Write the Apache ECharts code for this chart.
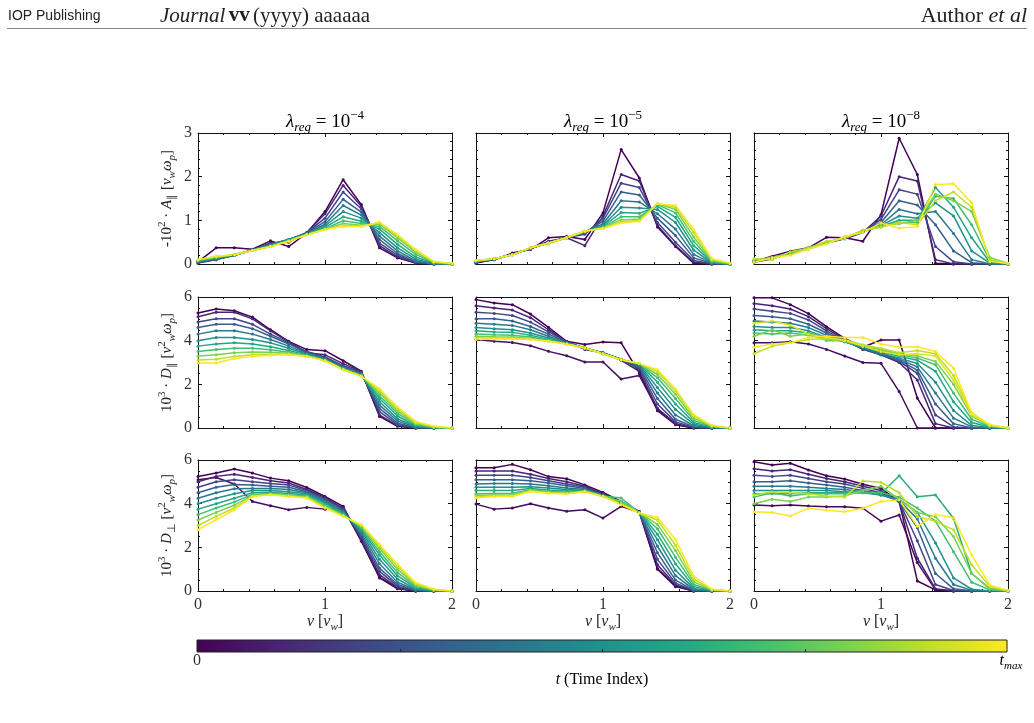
<!DOCTYPE html>
<html><head><meta charset="utf-8">
<script src="https://cdn.jsdelivr.net/npm/echarts@6/dist/echarts.min.js"></script>
<style>html,body{margin:0;padding:0;background:#fff}#c{width:1034px;height:723px}</style>
</head><body><div id="c"></div>
<script>
// ---------- data ----------
const vGrid = [0,0.143,0.286,0.429,0.571,0.714,0.857,1,1.143,1.286,1.429,1.571,1.714,1.857,2];
const lambdaExp = ['−4','−5','−8'];
const yTicksTop = [0,1,2,3];
const yTicksLow = [0,2,4,6];

// Row 1: -10^2 A_par ; lambda = 1e-4
const tA4 = [0,0.1,0.2,0.3,0.4,0.5,0.6,0.7,0.8,0.9,1];
const A4 = [
 [0.05,0.37,0.37,0.34,0.53,0.40,0.71,1.20,1.93,1.36,0.37,0.14,0.02,0,0],
 [0.02,0.10,0.20,0.32,0.48,0.50,0.72,1.15,1.80,1.32,0.42,0.16,0.02,0,0],
 [0.03,0.10,0.20,0.32,0.46,0.55,0.72,1.05,1.65,1.26,0.48,0.20,0.03,0,0],
 [0.04,0.11,0.20,0.32,0.45,0.56,0.71,0.97,1.48,1.19,0.56,0.24,0.05,0,0],
 [0.05,0.12,0.20,0.32,0.44,0.56,0.70,0.91,1.34,1.12,0.64,0.30,0.07,0,0],
 [0.06,0.13,0.21,0.32,0.43,0.56,0.69,0.87,1.20,1.05,0.72,0.37,0.11,0.01,0],
 [0.07,0.14,0.21,0.32,0.42,0.55,0.68,0.84,1.08,0.98,0.80,0.45,0.16,0.02,0],
 [0.08,0.15,0.21,0.31,0.41,0.54,0.68,0.81,0.99,0.93,0.86,0.53,0.22,0.03,0],
 [0.09,0.16,0.21,0.31,0.40,0.53,0.67,0.80,0.93,0.89,0.91,0.60,0.27,0.04,0],
 [0.10,0.17,0.21,0.31,0.40,0.52,0.67,0.79,0.88,0.87,0.94,0.64,0.31,0.05,0.01],
 [0.10,0.18,0.21,0.31,0.40,0.52,0.67,0.79,0.86,0.86,0.96,0.67,0.33,0.06,0.01]
];
// lambda = 1e-5
const tA5 = [0,0.1,0.2,0.3,0.4,0.5,0.6,0.7,0.8,0.9,1];
const A5 = [
 [0.02,0.10,0.25,0.33,0.60,0.63,0.56,1.17,2.62,1.97,0.85,0.40,0.02,0,0],
 [0.03,0.10,0.22,0.35,0.52,0.60,0.42,1.10,2.05,1.90,0.88,0.42,0.04,0,0],
 [0.04,0.11,0.22,0.35,0.50,0.60,0.68,1.05,1.85,1.75,0.95,0.50,0.08,0,0],
 [0.05,0.11,0.22,0.36,0.49,0.60,0.72,0.98,1.65,1.58,1.05,0.65,0.14,0.01,0],
 [0.05,0.11,0.21,0.36,0.48,0.60,0.73,0.92,1.45,1.42,1.15,0.80,0.22,0.02,0],
 [0.06,0.12,0.21,0.36,0.48,0.60,0.74,0.88,1.30,1.28,1.25,0.95,0.32,0.03,0],
 [0.06,0.12,0.21,0.37,0.48,0.60,0.74,0.86,1.18,1.16,1.32,1.07,0.42,0.04,0],
 [0.07,0.12,0.21,0.37,0.48,0.60,0.75,0.84,1.08,1.08,1.36,1.17,0.52,0.06,0],
 [0.07,0.12,0.21,0.37,0.48,0.60,0.75,0.83,1.01,1.03,1.38,1.25,0.62,0.08,0.01],
 [0.08,0.12,0.21,0.37,0.48,0.60,0.75,0.82,0.96,1.00,1.38,1.30,0.72,0.10,0.02],
 [0.08,0.12,0.21,0.37,0.48,0.60,0.75,0.82,0.94,0.98,1.38,1.34,0.79,0.12,0.02]
];
// lambda = 1e-8
const tA8 = [0,0.1,0.2,0.3,0.4,0.5,0.6,0.7,0.8,0.9,1];
const A8 = [
 [0.06,0.18,0.29,0.37,0.61,0.60,0.52,1.13,2.88,2.05,0.02,0,0,0,0],
 [0.04,0.12,0.25,0.35,0.50,0.58,0.72,1.10,2.00,1.90,0.10,0,0,0,0],
 [0.05,0.12,0.24,0.35,0.48,0.58,0.73,1.02,1.70,1.60,0.40,0.05,0,0,0],
 [0.06,0.13,0.23,0.35,0.48,0.60,0.74,0.95,1.45,1.35,0.90,0.30,0.03,0,0],
 [0.07,0.13,0.23,0.36,0.48,0.60,0.74,0.90,1.25,1.15,1.20,0.70,0.10,0,0],
 [0.07,0.14,0.23,0.36,0.49,0.60,0.75,0.88,1.10,1.05,1.40,1.10,0.30,0.02,0],
 [0.08,0.14,0.24,0.37,0.49,0.61,0.75,0.86,1.00,1.00,1.75,1.30,0.60,0.04,0],
 [0.10,0.12,0.26,0.35,0.50,0.60,0.76,0.85,0.95,0.95,1.55,1.50,0.90,0.08,0],
 [0.06,0.16,0.22,0.38,0.47,0.62,0.74,0.88,0.92,1.00,1.60,1.45,1.20,0.15,0.01],
 [0.12,0.10,0.28,0.36,0.52,0.58,0.78,0.84,0.95,0.90,1.45,1.65,1.30,0.10,0.01],
 [0.04,0.14,0.20,0.34,0.46,0.63,0.72,0.94,0.82,0.86,1.82,1.84,1.40,0.06,0.01]
];

// Row 2: 10^3 D_par
const tDp4 = [0,0.1,0.2,0.3,0.4,0.5,0.6,0.7,0.8,0.9,1];
const Dp4 = [
 [5.27,5.45,5.37,5.08,4.50,3.97,3.59,3.54,3.08,2.60,0.53,0.08,0,0,0],
 [5.10,5.30,5.30,5.00,4.45,3.95,3.45,3.35,2.95,2.58,0.60,0.10,0,0,0],
 [4.85,5.00,5.00,4.75,4.30,3.90,3.50,3.25,2.85,2.55,0.75,0.15,0,0,0],
 [4.60,4.75,4.75,4.55,4.20,3.85,3.45,3.20,2.80,2.50,0.90,0.22,0.02,0,0],
 [4.30,4.45,4.45,4.30,4.05,3.75,3.42,3.17,2.77,2.47,1.05,0.32,0.04,0,0],
 [4.00,4.15,4.15,4.05,3.90,3.65,3.38,3.14,2.74,2.44,1.20,0.42,0.07,0,0],
 [3.75,3.85,3.90,3.85,3.72,3.55,3.35,3.12,2.72,2.42,1.35,0.55,0.10,0.01,0],
 [3.50,3.60,3.65,3.65,3.58,3.47,3.32,3.10,2.70,2.40,1.48,0.67,0.15,0.02,0],
 [3.30,3.35,3.45,3.48,3.47,3.42,3.30,3.09,2.69,2.39,1.60,0.78,0.20,0.04,0],
 [3.12,3.15,3.28,3.36,3.38,3.38,3.29,3.08,2.68,2.38,1.70,0.88,0.25,0.06,0],
 [2.98,2.98,3.18,3.28,3.33,3.36,3.28,3.08,2.67,2.37,1.80,0.96,0.30,0.08,0]
];
const tDp5 = [0,0.04,0.1,0.2,0.3,0.4,0.5,0.6,0.7,0.8,0.9,1];
const Dp5 = [
 [5.88,5.73,5.65,5.22,4.61,3.97,3.82,3.94,3.90,2.52,0.79,0.15,0,0,0],
 [4.05,3.97,3.92,3.77,3.51,3.31,3.02,3.02,2.24,2.40,0.85,0.18,0,0,0],
 [5.60,5.50,5.40,5.05,4.50,3.95,3.60,3.45,3.10,2.60,0.90,0.20,0.01,0,0],
 [5.30,5.25,5.15,4.85,4.40,3.95,3.65,3.45,3.15,2.70,1.10,0.28,0.02,0,0],
 [5.00,5.00,4.90,4.65,4.30,3.93,3.66,3.42,3.15,2.78,1.35,0.40,0.05,0,0],
 [4.80,4.75,4.70,4.50,4.20,3.90,3.66,3.42,3.14,2.85,1.60,0.60,0.10,0.01,0],
 [4.60,4.55,4.50,4.35,4.12,3.88,3.66,3.41,3.14,2.90,1.85,0.85,0.17,0.02,0],
 [4.45,4.40,4.38,4.25,4.06,3.87,3.66,3.41,3.13,2.92,2.10,1.10,0.25,0.04,0],
 [4.30,4.27,4.25,4.17,4.02,3.86,3.66,3.40,3.13,2.94,2.30,1.35,0.35,0.06,0],
 [4.20,4.18,4.17,4.10,3.99,3.85,3.66,3.40,3.13,2.95,2.45,1.55,0.45,0.08,0],
 [4.12,4.12,4.11,4.07,3.98,3.85,3.66,3.40,3.13,2.95,2.58,1.70,0.54,0.10,0],
 [4.05,4.08,4.08,4.05,3.97,3.85,3.66,3.40,3.13,2.95,2.67,1.79,0.61,0.12,0]
];
const tDp8 = [0,0.03,0.1,0.2,0.3,0.4,0.5,0.6,0.7,0.8,0.9,0.95,1];
const Dp8 = [
 [5.96,5.96,5.65,5.24,4.64,4.10,3.70,4.03,4.03,1.37,0,0,0,0,0],
 [3.90,3.90,3.95,3.85,3.60,3.30,3.00,2.96,1.67,0,0,0,0,0,0],
 [5.70,5.60,5.45,5.10,4.55,4.05,3.60,3.35,3.00,2.20,0.20,0,0,0,0],
 [5.45,5.35,5.25,4.95,4.45,4.00,3.62,3.35,3.05,2.50,0.60,0.05,0,0,0],
 [5.15,5.10,5.00,4.75,4.35,3.97,3.65,3.37,3.10,2.65,1.10,0.20,0,0,0],
 [4.90,4.85,4.80,4.60,4.25,3.95,3.67,3.40,3.15,2.80,1.60,0.45,0.05,0,0],
 [4.65,4.60,4.60,4.45,4.15,3.95,3.70,3.45,3.20,2.95,2.10,0.80,0.12,0.01,0],
 [4.50,4.45,4.45,4.35,4.12,3.95,3.72,3.50,3.28,3.10,2.60,1.20,0.25,0.03,0],
 [4.35,4.30,4.35,4.25,4.10,3.96,3.75,3.55,3.35,3.20,2.90,1.60,0.40,0.06,0],
 [4.20,4.50,4.20,4.30,4.00,4.00,3.80,3.60,3.40,3.30,3.05,2.00,0.55,0.10,0],
 [3.40,3.75,3.90,4.05,4.10,4.05,3.80,3.65,3.45,3.55,3.40,2.40,0.70,0.12,0],
 [4.80,4.90,4.71,4.30,4.15,4.00,3.75,3.50,3.35,3.40,3.30,2.20,0.60,0.14,0],
 [3.70,3.85,3.90,4.15,4.20,4.15,4.15,3.85,3.70,3.72,3.50,2.74,0.68,0.15,0]
];

// Row 3: 10^3 D_perp
const tDq4 = [0,0.03,0.1,0.2,0.3,0.4,0.5,0.6,0.7,0.8,0.9,1];
const Dq4 = [
 [5.24,5.40,5.59,5.40,5.17,5.05,4.74,4.33,3.88,2.28,0.64,0.12,0,0,0],
 [5.10,5.20,4.90,4.10,3.90,3.72,3.83,3.75,3.80,2.30,0.60,0.10,0,0,0],
 [5.00,5.25,5.35,5.20,5.05,4.95,4.65,4.28,3.80,2.35,0.75,0.15,0,0,0],
 [4.75,5.00,5.10,5.00,4.92,4.85,4.60,4.22,3.75,2.45,0.90,0.22,0.01,0,0],
 [4.50,4.75,4.88,4.85,4.80,4.75,4.55,4.17,3.70,2.55,1.05,0.30,0.03,0,0],
 [4.25,4.50,4.68,4.70,4.70,4.65,4.50,4.10,3.65,2.65,1.25,0.40,0.05,0,0],
 [4.00,4.25,4.45,4.60,4.60,4.55,4.45,4.05,3.60,2.75,1.45,0.55,0.09,0.01,0],
 [3.75,4.00,4.25,4.50,4.52,4.47,4.40,4.00,3.55,2.82,1.65,0.70,0.14,0.02,0],
 [3.50,3.80,4.08,4.42,4.47,4.40,4.35,3.92,3.50,2.90,1.80,0.85,0.20,0.03,0],
 [3.25,3.60,3.93,4.37,4.44,4.37,4.30,3.87,3.46,2.96,1.95,1.00,0.27,0.05,0],
 [3.00,3.42,3.80,4.34,4.42,4.35,4.28,3.83,3.44,3.00,2.05,1.12,0.33,0.07,0],
 [2.81,3.27,3.72,4.33,4.41,4.33,4.26,3.80,3.42,3.04,2.13,1.22,0.38,0.08,0]
];
const tDq5 = [0,0.02,0.1,0.2,0.3,0.4,0.5,0.6,0.7,0.8,0.9,1];
const Dq5 = [
 [5.65,5.65,5.80,5.55,5.24,5.14,4.86,4.51,4.10,3.65,1.03,0.23,0,0,0],
 [3.98,3.75,3.80,4.00,3.80,3.65,3.72,3.34,3.88,3.60,1.00,0.20,0,0,0],
 [5.50,5.50,5.50,5.35,5.15,5.00,4.80,4.45,4.05,3.62,1.20,0.28,0,0,0],
 [5.30,5.30,5.30,5.20,5.05,4.90,4.75,4.42,4.03,3.60,1.45,0.36,0.01,0,0],
 [5.10,5.10,5.10,5.05,4.95,4.82,4.70,4.40,4.02,3.60,1.75,0.50,0.03,0,0],
 [4.90,4.92,4.92,4.90,4.82,4.72,4.65,4.38,4.02,3.60,2.05,0.70,0.06,0,0],
 [4.75,4.75,4.75,4.78,4.72,4.65,4.62,4.37,4.05,3.60,2.35,0.95,0.12,0.01,0],
 [4.60,4.60,4.60,4.70,4.63,4.58,4.60,4.36,4.10,3.60,2.60,1.25,0.20,0.02,0],
 [4.45,4.47,4.48,4.64,4.56,4.52,4.58,4.35,4.26,3.59,2.85,1.55,0.30,0.03,0],
 [4.38,4.40,4.41,4.60,4.52,4.48,4.57,4.34,4.10,3.58,3.05,1.85,0.42,0.05,0],
 [4.30,4.35,4.36,4.58,4.50,4.46,4.56,4.33,4.00,3.57,3.25,2.10,0.55,0.07,0],
 [4.26,4.33,4.33,4.56,4.48,4.44,4.56,4.33,3.95,3.57,3.37,2.36,0.68,0.08,0]
];
const tDq8 = [0,0.02,0.1,0.2,0.3,0.4,0.5,0.62,0.7,0.8,0.9,1];
const Dq8 = [
 [5.92,5.77,5.85,5.54,5.28,5.13,4.89,4.70,4.09,0.46,0.05,0,0,0,0],
 [3.94,3.90,3.94,3.89,3.86,3.86,3.79,3.20,3.48,1.30,0.05,0,0,0,0],
 [5.60,5.50,5.55,5.35,5.15,5.00,4.80,4.60,4.10,1.50,0.10,0,0,0,0],
 [5.30,5.25,5.30,5.15,5.00,4.90,4.70,4.50,4.10,2.30,0.30,0.02,0,0,0],
 [5.00,5.00,5.05,4.95,4.85,4.75,4.60,4.45,4.10,2.90,0.80,0.10,0,0,0],
 [4.80,4.80,4.80,4.75,4.70,4.65,4.55,4.40,4.15,3.30,1.50,0.30,0.03,0,0],
 [4.60,4.60,4.60,4.60,4.60,4.55,4.50,4.40,4.20,3.60,2.20,0.60,0.08,0,0],
 [4.45,4.45,4.45,4.50,4.50,4.50,4.55,4.45,5.28,4.32,4.40,3.33,0.80,0.10,0],
 [4.30,4.50,4.35,4.45,4.45,4.45,4.50,4.50,4.30,3.80,3.20,1.80,0.40,0.05,0],
 [4.00,4.20,4.10,4.30,4.30,4.35,4.60,4.80,4.20,3.60,3.40,2.50,0.80,0.12,0],
 [4.40,4.55,4.50,4.45,4.35,4.30,5.04,4.98,4.50,3.40,3.20,2.80,1.20,0.20,0],
 [3.63,3.60,3.44,3.79,3.70,3.63,3.79,4.10,4.18,2.96,3.50,3.36,1.65,0.27,0.02]
];

// ---------- layout / style ----------
const SERIF = 'Liberation Serif';
const colLeft = [198, 476, 754], colW = 254;
const rowTop = [133, 297, 460], rowH = 131;
const viridis = ['#440154','#482475','#414487','#355f8d','#2a788e','#21918c','#22a884','#44bf70','#7ad151','#bddf26','#fde725'];
function hex(c){return [parseInt(c.slice(1,3),16),parseInt(c.slice(3,5),16),parseInt(c.slice(5,7),16)];}
function vcol(t){
  const p = Math.max(0,Math.min(1,t))*10, i = Math.min(9,Math.floor(p)), f = p-i;
  const a = hex(viridis[i]), b = hex(viridis[i+1]);
  return 'rgb('+a.map((v,k)=>Math.round(v+(b[k]-v)*f)).join(',')+')';
}
function rich(fs){
  const lh = fs+6, s = Math.round(fs*0.7);
  return {
    n:{fontFamily:SERIF,fontSize:fs,lineHeight:lh,verticalAlign:'middle',color:'#222'},
    i:{fontFamily:SERIF,fontSize:fs,lineHeight:lh,verticalAlign:'middle',fontStyle:'italic',color:'#222'},
    sup:{fontFamily:SERIF,fontSize:s,lineHeight:s+2,verticalAlign:'top',color:'#222'},
    sub:{fontFamily:SERIF,fontSize:s,lineHeight:s+1,verticalAlign:'bottom',fontStyle:'italic',color:'#222'},
    subn:{fontFamily:SERIF,fontSize:s,lineHeight:s+1,verticalAlign:'bottom',color:'#222'}
  };
}
const yNames = [
  '{n|-10}{sup|2}{n| · }{i|A}{subn|∥}{n| [}{i|v}{sub|w}{i|ω}{sub|p}{n|]}',
  '{n|10}{sup|3}{n| · }{i|D}{subn|∥}{n| [}{i|v}{sup|2}{sub|w}{i|ω}{sub|p}{n|]}',
  '{n|10}{sup|3}{n| · }{i|D}{subn|⊥}{n| [}{i|v}{sup|2}{sub|w}{i|ω}{sub|p}{n|]}'
];
const panels = [
  [[tA4,A4],[tA5,A5],[tA8,A8]],
  [[tDp4,Dp4],[tDp5,Dp5],[tDp8,Dp8]],
  [[tDq4,Dq4],[tDq5,Dq5],[tDq8,Dq8]]
];

const grid=[], xAxis=[], yAxis=[], series=[];
const axLine = {show:true,onZero:false,lineStyle:{color:'#111',width:1}};
for(let r=0;r<3;r++){
  for(let c=0;c<3;c++){
    const g = grid.length;
    grid.push({left:colLeft[c],top:rowTop[r],width:colW,height:rowH,containLabel:false});
    const xBase = {gridIndex:g,type:'value',min:0,max:2,interval:1,axisLine:axLine,
      axisTick:{show:true,inside:true,length:4,lineStyle:{color:'#111'}},
      minorTick:{show:true,splitNumber:5,length:2,lineStyle:{color:'#111'}},
      splitLine:{show:false},minorSplitLine:{show:false}};
    xAxis.push(Object.assign({},xBase,{position:'bottom',
      axisLabel:{show:r===2,margin:6,fontFamily:SERIF,fontSize:16,color:'#333'},
      name: r===2 ? '{i|v}{n| [}{i|v}{sub|w}{n|]}' : '', nameLocation:'middle', nameGap:20,
      nameTextStyle:{rich:rich(16)}}));
    xAxis.push(Object.assign({},xBase,{position:'top',axisLabel:{show:false}}));
    const ymax = r===0?3:6, yint = r===0?1:2, ysplit = r===0?5:4;
    const yBase = {gridIndex:g,type:'value',min:0,max:ymax,interval:yint,axisLine:axLine,
      axisTick:{show:true,inside:true,length:4,lineStyle:{color:'#111'}},
      minorTick:{show:true,splitNumber:ysplit,length:2,lineStyle:{color:'#111'}},
      splitLine:{show:false},minorSplitLine:{show:false}};
    yAxis.push(Object.assign({},yBase,{position:'left',
      axisLabel:{show:c===0,margin:6,fontFamily:SERIF,fontSize:16,color:'#333'},
      name: c===0 ? yNames[r] : '', nameLocation:'middle', nameRotate:90, nameGap:20,
      nameTextStyle:{rich:rich(15)}}));
    yAxis.push(Object.assign({},yBase,{position:'right',axisLabel:{show:false}}));
    const [ts, lines] = panels[r][c];
    lines.forEach((vals,k)=>{
      const col = vcol(ts[k]);
      series.push({type:'line',xAxisIndex:2*g,yAxisIndex:2*g,
        data: vGrid.map((x,i)=>[x,vals[i]]),
        symbol:'circle',symbolSize:3,showSymbol:true,
        lineStyle:{color:col,width:1.5},itemStyle:{color:col},
        silent:true,animation:false,clip:true});
    });
  }
}

// graphic: header, titles, colorbar
const graphic = [];
graphic.push({type:'text',x:8,y:16,style:{text:'IOP Publishing',verticalAlign:'middle',font:'14px "Liberation Sans Narrow", "Liberation Sans", sans-serif',fill:'#222'}});
graphic.push({type:'text',x:160,y:16,style:{text:'{i|Journal} {b|vv} {n|(yyyy) aaaaaa}',verticalAlign:'middle',
  rich:{i:{fontFamily:SERIF,fontSize:21,fontStyle:'italic',fill:'#222'},b:{fontFamily:SERIF,fontSize:21,fontWeight:'bold',fill:'#222'},n:{fontFamily:SERIF,fontSize:21,fill:'#222'}}}});
graphic.push({type:'text',x:1027,y:16,style:{text:'{n|Author }{i|et al}',align:'right',verticalAlign:'middle',
  rich:{i:{fontFamily:SERIF,fontSize:22,fontStyle:'italic',fill:'#222'},n:{fontFamily:SERIF,fontSize:22,fill:'#222'}}}});
graphic.push({type:'line',shape:{x1:7,y1:28.5,x2:1027,y2:28.5},style:{stroke:'#888',lineWidth:1}});
for(let c=0;c<3;c++){
  graphic.push({type:'text',x:colLeft[c]+colW/2,y:122,style:{
    text:'{i|λ}{sub|reg}{n| = 10}{sup|'+lambdaExp[c]+'}',align:'center',verticalAlign:'middle',rich:rich(19)}});
}
const cbL=197, cbR=1007, cbT=640, cbB=652;
graphic.push({type:'rect',shape:{x:cbL,y:cbT,width:cbR-cbL,height:cbB-cbT},
  style:{fill:new echarts.graphic.LinearGradient(0,0,1,0,viridis.map((c,i)=>({offset:i/10,color:c}))),stroke:'#222',lineWidth:1}});
[0.25,0.5,0.75].forEach(f=>{
  const x = Math.round(cbL+(cbR-cbL)*f)+0.5;
  graphic.push({type:'line',shape:{x1:x,y1:cbB,x2:x,y2:cbB-3},style:{stroke:'#222',lineWidth:1}});
});
graphic.push({type:'text',x:cbL,y:661,style:{text:'0',align:'center',verticalAlign:'middle',font:'16px "Liberation Serif"',fill:'#333'}});
graphic.push({type:'text',x:cbR+4,y:661,style:{text:'{i|t}{sub|max}',align:'center',verticalAlign:'middle',rich:rich(16)}});
graphic.push({type:'text',x:(cbL+cbR)/2,y:680,style:{text:'{i|t}{n| (Time Index)}',align:'center',verticalAlign:'middle',rich:rich(16)}});

const chart = echarts.init(document.getElementById('c'),null,{renderer:'canvas'});
chart.setOption({animation:false,backgroundColor:'#fff',grid,xAxis,yAxis,series,graphic});
</script></body></html>
